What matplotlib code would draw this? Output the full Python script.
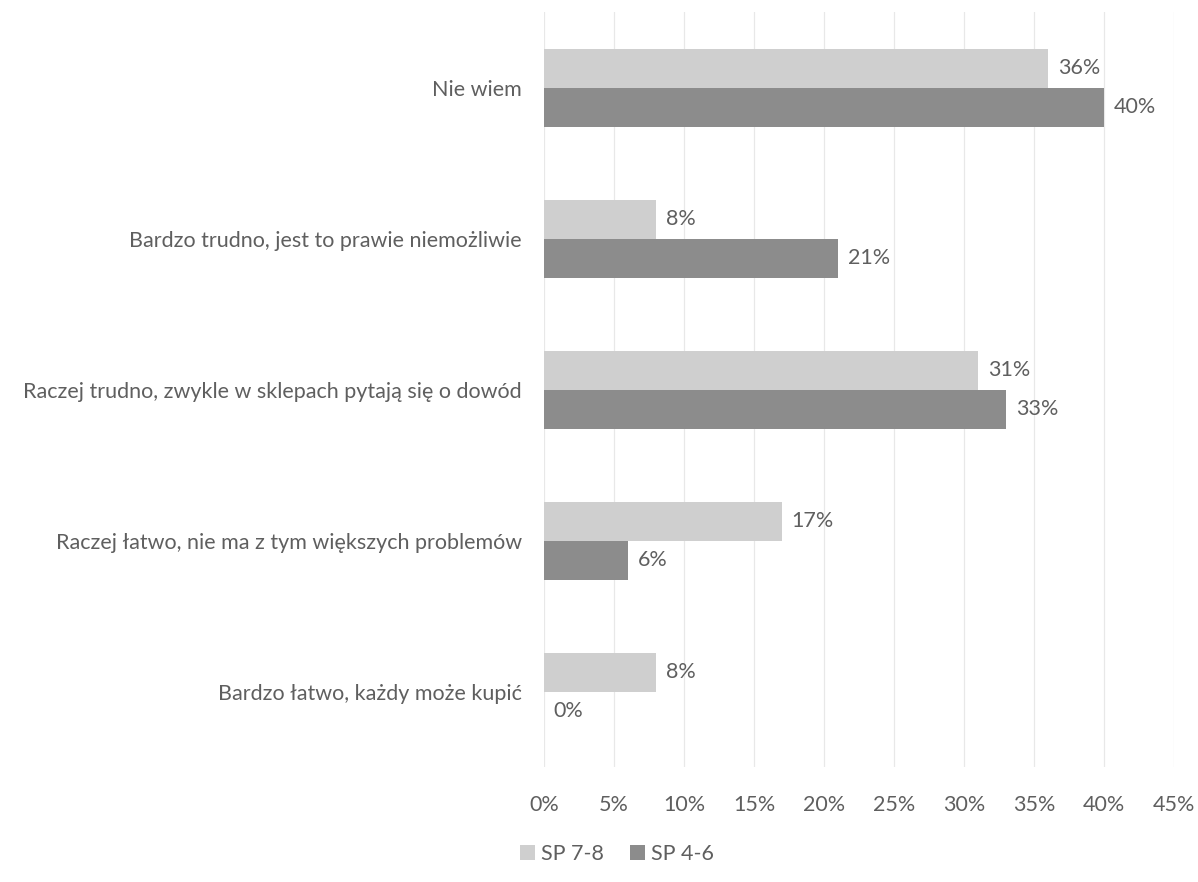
import numpy as np
from matplotlib import pyplot as plt
from matplotlib.ticker import PercentFormatter

plt.rcParams['font.family'] = ['Lato', 'DejaVu Sans']

categories = ["Nie wiem",
              "Bardzo trudno, jest to prawie niemożliwie",
              "Raczej trudno, zwykle w sklepach pytają się o dowód",
              "Raczej łatwo, nie ma z tym większych problemów",
              "Bardzo łatwo, każdy może kupić"]
sp78 = [36, 8, 31, 17, 8]
sp46 = [40, 21, 33, 6, 0]
series_names = ["SP 7-8", "SP 4-6"]

fig = plt.figure(figsize=(11.98, 8.82), dpi=100)
ax = fig.add_axes([0.454, 0.130, 0.526, 0.856])

y = np.arange(len(categories))
h = 0.26
text_col = '#5f5f5f'
fs = 15.5

b1 = ax.barh(y - h/2, sp78, height=h, color='#cfcfcf', label=series_names[0])
b2 = ax.barh(y + h/2, sp46, height=h, color='#8c8c8c', label=series_names[1])

for bars, vals in ((b1, sp78), (b2, sp46)):
    for bar, v in zip(bars, vals):
        ax.text(v + 0.7, bar.get_y() + bar.get_height()/2, f"{v}%",
                va='center', ha='left', fontsize=fs, color=text_col)

ax.set_xlim(0, 45)
ax.set_xticks(range(0, 46, 5))
ax.xaxis.set_major_formatter(PercentFormatter(decimals=0))
ax.set_ylim(len(categories) - 0.5, -0.5)
ax.set_yticks(y)
ax.set_yticklabels(categories)
ax.tick_params(axis='both', length=0, labelsize=fs, colors=text_col)
ax.tick_params(axis='x', pad=20)
ax.tick_params(axis='y', pad=16)
ax.grid(axis='x', color='#e8e8e8', linewidth=0.9)
ax.set_axisbelow(True)
for s in ax.spines.values():
    s.set_visible(False)

fig.legend(handles=[b1, b2], loc='center', bbox_to_anchor=(0.515, 0.032), ncol=2,
           frameon=False, fontsize=fs, labelcolor=text_col,
           handlelength=0.7, handleheight=0.7, handletextpad=0.3, columnspacing=1.2)

fig.savefig('out.png', dpi=100)
